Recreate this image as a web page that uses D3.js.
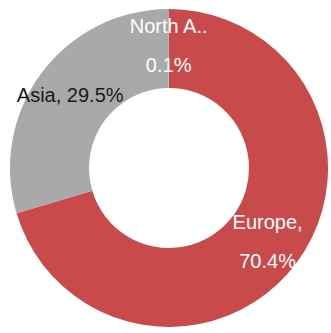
<!DOCTYPE html>
<html>
<head>
<meta charset="utf-8">
<script src="https://cdn.jsdelivr.net/npm/d3@7/dist/d3.min.js"></script>
<style>
  html, body { margin: 0; padding: 0; background: #fff; }
  svg { display: block; }
  text { font-family: "Liberation Sans", Arial, Helvetica, sans-serif; font-size: 20px; }
</style>
</head>
<body>
<svg id="chart" width="331" height="333"></svg>
<script>
// Share of total by region (percent)
const regions = ["Europe", "Asia", "North America"];
const shares = [70.4, 29.5, 0.1];
const sliceColors = ["#c94a4a", "#a9a9a9", "#a9a9a9"];
const labelColors = ["#ffffff", "#1a1a1a", "#ffffff"];

const width = 331, height = 333;
const cx = 169, cy = 168;
const outerR = 159, innerR = 80;
const labelR = 123;
const lineGap = 39;

const svg = d3.select("#chart");
const g = svg.append("g").attr("transform", `translate(${cx},${cy})`);

const data = regions.map((name, i) => ({ name, value: shares[i], i }));

const pie = d3.pie().value(d => d.value).sort(null);
const arc = d3.arc().innerRadius(innerR).outerRadius(outerR);
const labelArc = d3.arc().innerRadius(labelR).outerRadius(labelR);
const arcs = pie(data);

g.selectAll("path.slice")
  .data(arcs)
  .join("path")
  .attr("class", "slice")
  .attr("d", arc)
  .attr("fill", d => sliceColors[d.data.i]);

// Long names are shortened for the label
const shortName = n => n.length > 8 ? n.slice(0, 7) + ".." : n;
const pct = v => d3.format(".1f")(v) + "%";

arcs.forEach(d => {
  const [x, y] = labelArc.centroid(d);
  const name = shortName(d.data.name);
  const t = g.append("text")
    .attr("text-anchor", "middle")
    .attr("fill", labelColors[d.data.i]);
  const one = t.append("tspan").attr("x", x).text(`${name}, ${pct(d.data.value)}`);
  const w = one.node().getComputedTextLength();
  const narrow = (d.endAngle - d.startAngle) < 0.3;
  const overflow = cx + x - w / 2 < 4 || cx + x + w / 2 > width - 4;
  if (narrow || overflow) {
    // wrap onto two lines: name, then percentage
    one.text(name + (name.endsWith("..") ? "" : ","))
       .attr("y", y - lineGap / 2 + 7);
    t.append("tspan").attr("x", x).attr("y", y + lineGap / 2 + 7).text(pct(d.data.value));
  } else {
    one.attr("y", y + 7);
  }
});
</script>
</body>
</html>
